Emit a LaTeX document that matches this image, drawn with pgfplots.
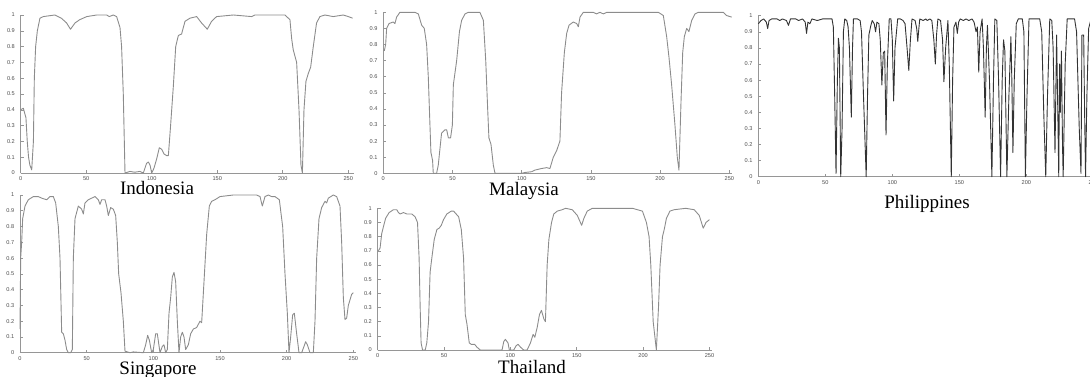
\documentclass[border=0pt]{standalone}
\usepackage{pgfplots}
\pgfplotsset{compat=1.18}
\usepackage{fontspec}
\setmainfont{Liberation Serif}
\newfontfamily\tickfont{Liberation Sans}
\definecolor{curvecol}{RGB}{140,140,140}
\definecolor{axline}{RGB}{150,150,150}
\pgfplotsset{
  panel/.style={
    scale only axis,
    axis lines=left,
    axis line style={-, draw=axline, line width=0.4pt},
    xmin=0, ymin=0, ymax=1,
    xtick={0,50,100,150,200,250},
    ytick={0,0.1,0.2,0.3,0.4,0.5,0.6,0.7,0.8,0.9,1},
    tick align=inside,
    major tick length=1.5pt,
    tick style={draw=axline, line width=0.3pt},
    ticklabel style={font=\tickfont\fontsize{2.8}{3}\selectfont, text=black!70},
    /pgf/number format/assume math mode=true,
    yticklabel style={/pgf/number format/fixed, /pgf/number format/precision=1, xshift=0.6pt},
    xticklabel style={yshift=1.7pt},
    clip=false,
    anchor=south west,
  },
  mycurve/.style={draw=curvecol, line width=0.45pt, line join=round, mark=none},
}
\begin{document}
\begin{tikzpicture}
\useasboundingbox (0,0) rectangle (545pt,188pt);
% Indonesia
\begin{axis}[panel, at={(10.35pt,101.5pt)}, width=166.4pt, height=79pt, xmax=254]
\addplot[mycurve] coordinates {
(0,0.40) (2,0.41) (4,0.35) (5,0.2) (6,0.1) (7,0.05) (8.4,0.02) (9.7,0.2) (10.4,0.6) (11.4,0.8) (12.7,0.9) (14.7,0.98) (17.3,0.99) (26,1.0) (31,0.98) (35,0.95) (38,0.91) (41.5,0.95) (45,0.97) (50.4,0.99) (58,1.0) (65.6,1.0) (67.6,0.99) (70.7,1.0) (73.2,0.99) (75.8,0.92) (77,0.8) (78.3,0.5) (79.6,0.0) (83.4,0.01) (87,0.005) (91,0.01) (93.6,0.0) (96,0.06) (97.4,0.07) (98.7,0.05) (100,0.0) (101.7,0.03) (103.8,0.09) (105.8,0.16) (107.6,0.15) (109.4,0.12) (111.4,0.11) (112.7,0.11) (114.4,0.3) (116.5,0.55) (118.3,0.8) (120.3,0.87) (122.8,0.88) (125.4,0.96) (129.2,0.98) (134.3,0.99) (138,0.95) (142.4,0.91) (145.7,0.96) (149.5,0.99) (162.3,1.0) (176.2,0.99) (178.8,1.0) (187.7,1.0) (201.7,1.0) (205.5,0.97) (206.8,0.85) (208,0.78) (210.6,0.7) (212.4,0.4) (213.9,0.05) (215,0.0) (216.2,0.4) (217.7,0.58) (219.5,0.63) (221.3,0.67) (223.3,0.8) (225.8,0.95) (228.4,0.99) (232.2,1.0) (238.5,0.99) (246.2,1.0) (250,0.99) (253.3,0.98)
};
\end{axis}
% Malaysia
\begin{axis}[panel, at={(191.65pt,101.35pt)}, width=174.4pt, height=80.5pt, xmax=252]
\addplot[mycurve] coordinates {
(0.7,0.76) (1.7,0.8) (2.4,0.9) (4.1,0.93) (7.2,0.94) (8.4,0.93) (9.6,0.97) (12,1.0) (22.9,1.0) (25.3,0.99) (27.7,0.92) (29.6,0.9) (31.3,0.8) (32.5,0.6) (33.7,0.3) (34.4,0.13) (35.6,0.08) (36.1,0.0) (38.5,0.0) (39.7,0.05) (40.9,0.15) (42.1,0.25) (44.6,0.27) (45.8,0.27) (47,0.22) (48.6,0.22) (49.9,0.3) (50.6,0.55) (53,0.7) (55,0.88) (56.6,0.95) (59,0.99) (61.4,1.0) (69.8,1.0) (72.3,0.95) (74,0.7) (75.4,0.4) (76.3,0.22) (77.8,0.18) (79.5,0.05) (80.7,0.0) (100,0.0) (102.4,0.005) (107.2,0.01) (109.6,0.02) (114.4,0.03) (118,0.035) (120.4,0.03) (122.8,0.1) (125.2,0.14) (127.6,0.2) (128.8,0.5) (130.8,0.75) (132.5,0.87) (134.2,0.92) (137.3,0.94) (139.7,0.93) (140.9,0.91) (142.1,0.97) (144.5,1.0) (151.7,1.0) (154.1,0.99) (156.5,1.0) (159,0.99) (161.4,1.0) (198.7,1.0) (202.3,0.98) (204.7,0.85) (206.4,0.72) (208.3,0.55) (210.7,0.3) (212.4,0.1) (213.6,0.02) (215.1,0.45) (216.3,0.75) (217.5,0.85) (219.2,0.9) (220.8,0.88) (222.8,0.95) (225.2,0.99) (227.6,1.0) (245.7,1.0) (248,0.98) (251.7,0.97)
};
\end{axis}
% Philippines
\begin{axis}[panel, at={(379.15pt,99.65pt)}, width=170.85pt, height=80.5pt, xmax=255]
\addplot[mycurve, draw=black!80] coordinates {
(0,0.95) (2,0.97) (4,0.98) (6,0.96) (7,0.92) (8,0.97) (10,0.98) (14,0.98) (16,0.97) (18,0.98) (21,0.97) (22.5,0.94) (24,0.98) (28,0.98) (30,0.97) (33,0.98) (35,0.96) (36,0.89) (37,0.96) (38.5,0.95) (40,0.98) (44,0.97) (48,0.98) (52,0.98) (55,0.98) (56,0.93) (57,0.5) (58,0.02) (59,0.6) (59.8,0.86) (60.5,0.8) (61.5,0.0) (62.5,0.3) (63.5,0.9) (64.5,0.98) (66,0.97) (67,0.93) (68,0.8) (69.4,0.37) (70.3,0.8) (71,0.98) (74,0.98) (76,0.97) (77,0.9) (78.5,0.5) (80.5,0.0) (81.5,0.5) (82.5,0.88) (84,0.94) (85,0.97) (86.5,0.95) (87.5,0.9) (88.5,0.96) (90,0.95) (91,0.85) (92.2,0.57) (93.3,0.77) (94.3,0.78) (95.3,0.26) (96.3,0.7) (97.7,0.98) (99,0.98) (100,0.85) (101,0.47) (102,0.8) (104,0.98) (106,0.98) (108,0.97) (109.5,0.95) (111,0.8) (112.3,0.66) (113.5,0.85) (114.7,0.98) (117,0.97) (118.2,0.92) (119,0.84) (119.8,0.92) (120.5,0.98) (123,0.97) (125,0.98) (126,0.97) (128,0.98) (129.5,0.97) (131,0.85) (132.1,0.70) (133,0.88) (134,0.98) (136,0.97) (137.5,0.85) (138.5,0.59) (139.8,0.8) (141.5,0.97) (142.5,0.7) (144,0.0) (145,0.6) (146,0.93) (147.5,0.96) (148.5,0.89) (149.5,0.96) (150.7,0.98) (153,0.97) (155,0.98) (157,0.97) (159.5,0.98) (161,0.96) (162.5,0.9) (163.5,0.93) (164.5,0.65) (165.5,0.9) (167,0.98) (168,0.8) (169.3,0.37) (170.2,0.8) (171,0.94) (172.5,0.6) (174.3,0.0) (175.5,0.6) (176.5,0.98) (178,0.97) (179.3,0.6) (180.8,0.0) (182,0.6) (183,0.85) (184,0.78) (185.5,0.0) (187,0.5) (188.5,0.87) (189.2,0.6) (190,0.15) (191,0.6) (192.5,0.95) (194,0.98) (197,0.98) (198.2,0.9) (199.3,0.0) (200.5,0.5) (202,0.98) (206,0.98) (210,0.98) (211.5,0.9) (213,0.4) (214.5,0.0) (215.8,0.5) (217.5,0.98) (219,0.97) (220,0.8) (221.4,0.15) (222.6,0.88) (223.5,0.4) (224.2,0.0) (224.8,0.7) (225.4,0.4) (226.2,0.78) (227,0.2) (227.5,0.0) (229,0.7) (230.5,0.98) (233,0.98) (236,0.98) (237.5,0.9) (239.5,0.3) (240.8,0.02) (241.5,0.88) (242.8,0.88) (243.5,0.4) (244.2,0.0) (245.2,0.5) (246.5,0.92) (248,0.97) (250,0.98) (252,0.98) (255,0.97)
};
\end{axis}
% Singapore
\begin{axis}[panel, at={(10pt,11.65pt)}, width=168pt, height=78.85pt, xmax=252]
\addplot[mycurve] coordinates {
(0,0.15) (0.5,0.6) (1.25,0.7) (2,0.85) (3.75,0.93) (6.25,0.97) (10,0.99) (13.75,0.99) (16.25,0.98) (20,0.97) (22.5,0.99) (25,0.99) (26.75,0.95) (28.75,0.8) (30,0.6) (31.25,0.13) (32.5,0.12) (33.75,0.08) (35,0.02) (36.25,0.0) (38,0.0) (39.25,0.02) (40,0.6) (41.25,0.85) (43.75,0.93) (46.25,0.91) (47.5,0.88) (48.75,0.95) (51.25,0.97) (53.75,0.98) (56.25,0.99) (58.75,0.97) (60,0.94) (61.25,0.97) (63.75,0.97) (65,0.93) (66.25,0.87) (68,0.92) (70,0.91) (71.75,0.87) (73,0.7) (74,0.5) (75.75,0.38) (77.5,0.2) (78.75,0.01) (82.5,0.0) (85,0.005) (92.5,0.0) (94.25,0.05) (95.75,0.11) (97,0.08) (98.75,0.0) (100,0.02) (101.75,0.12) (103,0.12) (105,0.0) (106.75,0.04) (108,0.05) (109.25,0.0) (110.5,0.02) (111.75,0.25) (113,0.35) (114.25,0.48) (115.5,0.51) (116.75,0.45) (118,0.2) (119.25,0.0) (120.5,0.1) (121.75,0.13) (123,0.1) (124.25,0.02) (126.25,0.05) (128,0.12) (130,0.15) (132.5,0.16) (135,0.2) (136.25,0.19) (138,0.45) (140,0.75) (142,0.93) (143.75,0.96) (146.25,0.97) (150,0.99) (160,1.0) (177.5,1.0) (180,0.99) (181.75,0.93) (183.75,0.99) (186.25,1.0) (188.75,0.99) (191.25,0.99) (194.5,0.97) (197,0.8) (198.75,0.5) (200.5,0.25) (201.75,0.0) (203,0.1) (204.5,0.24) (205.75,0.25) (207.5,0.12) (209.25,0.0) (211.25,0.0) (213,0.04) (214.25,0.07) (215.5,0.05) (217.5,0.0) (220,0.0) (221.25,0.2) (222.5,0.6) (224.25,0.85) (226.25,0.92) (228.75,0.96) (230,0.95) (231.25,0.98) (235,1.0) (237.5,0.99) (240,0.93) (241.25,0.7) (242.5,0.35) (243.75,0.21) (245,0.22) (246.25,0.3) (248.75,0.37) (250,0.38)
};
\end{axis}
% Thailand
\begin{axis}[panel, at={(188.85pt,13pt)}, width=167.2pt, height=70.85pt, xmax=252]
\addplot[mycurve] coordinates {
(0.5,0.7) (1.8,0.72) (3,0.82) (4.3,0.87) (6,0.93) (8.6,0.97) (11.8,0.99) (14.4,0.99) (15.6,0.97) (16.9,0.96) (19.4,0.97) (21.9,0.96) (25.7,0.96) (28.2,0.94) (30,0.9) (31.2,0.65) (32,0.3) (32.7,0.05) (33.8,0.0) (35.8,0.0) (37,0.05) (38.3,0.2) (39.5,0.55) (40.8,0.65) (42.6,0.78) (44.6,0.85) (46.3,0.86) (47.9,0.88) (49.6,0.92) (52.1,0.96) (55.4,0.98) (57.2,0.98) (61,0.94) (63,0.85) (64.7,0.65) (66,0.25) (67.3,0.18) (69,0.05) (70.5,0.04) (73,0.04) (74.8,0.02) (77.3,0.0) (93.7,0.0) (95,0.06) (96.2,0.075) (98.2,0.05) (99.2,0.0) (102.5,0.0) (104.3,0.03) (105.8,0.04) (107.6,0.02) (110,0.0) (112.6,0.0) (115.1,0.05) (117.1,0.11) (118.4,0.09) (120.2,0.16) (121.9,0.25) (123.4,0.28) (125.2,0.22) (126.4,0.2) (127.7,0.6) (129,0.78) (131,0.9) (132.7,0.96) (135.3,0.98) (139,0.99) (141.6,1.0) (146.6,0.99) (150.4,0.95) (153.7,0.88) (155.4,0.93) (157.9,0.98) (161.7,1.0) (192,1.0) (199.5,0.98) (202.5,0.9) (204.5,0.8) (205.8,0.6) (207.6,0.2) (208.8,0.1) (210,0.0) (211.6,0.3) (212.8,0.6) (214.6,0.8) (215.9,0.85) (217.6,0.93) (220.2,0.98) (223.4,0.99) (232.2,1.0) (238.5,0.99) (242.3,0.95) (245.3,0.86) (247.4,0.9) (250,0.92)
};
\end{axis}
\begin{scope}[every node/.style={font=\fontsize{9.5}{10}\selectfont, anchor=base, inner sep=0pt}]
\node at (78.5pt,90.6pt) {Indonesia};
\node at (262pt,90.3pt) {Malaysia};
\node at (463.5pt,84pt) {Philippines};
\node at (79pt,0.8pt) {Singapore};
\node at (266pt,1.5pt) {Thailand};
\end{scope}
\end{tikzpicture}
\end{document}
